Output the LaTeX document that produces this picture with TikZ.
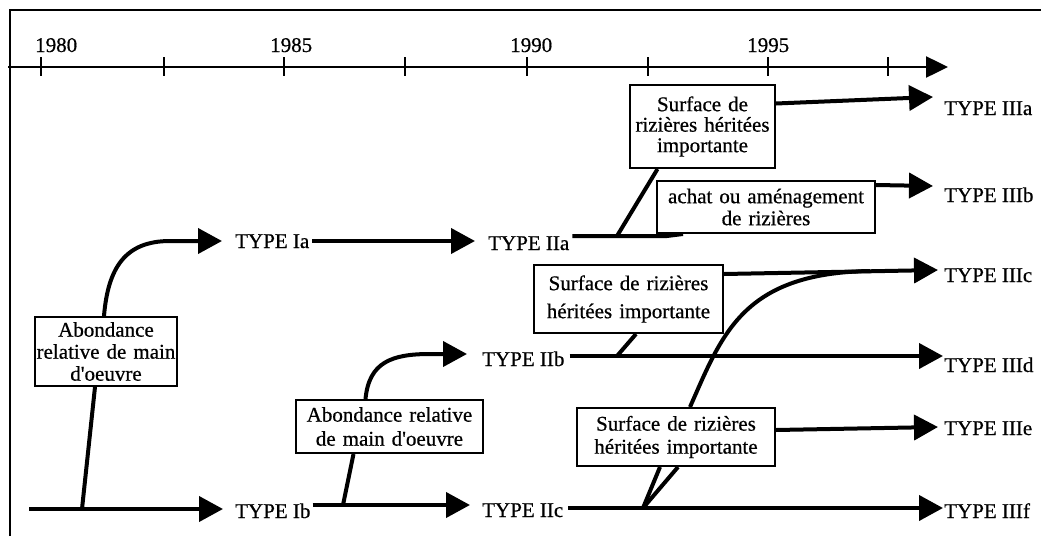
\documentclass[tikz,border=0pt]{standalone}
\usepackage{fontspec}
\setmainfont{Liberation Serif}[FakeBold=0.6]
\usetikzlibrary{arrows.meta,backgrounds}
\begin{document}
\begin{tikzpicture}[x=1pt,y=-1pt,
  every node/.style={font={\fontsize{21}{22}\selectfont}},
  frame/.style={line width=2pt},
  axis/.style={line width=2.5pt,-{Triangle[length=22pt,width=21pt]}},
  tick/.style={line width=2.5pt},
  year/.style={anchor=base west,inner sep=0pt},
  lbl/.style={anchor=west,inner sep=0pt,text height=14pt,text depth=0pt},
  boxnode/.style={draw,line width=2pt,fill=white,inner sep=0pt,align=center},
  conn/.style={line width=4pt},
  arr/.style={conn,-{Triangle[length=24pt,width=25pt]}}]
\useasboundingbox (0,0) rectangle (1041,536);
% frame
\draw[frame] (10,536) -- (10,10) -- (1041,10);
% time axis
\coordinate (ax0) at (8,67);
\coordinate (ax1) at (948,67);
\draw[axis] (ax0) -- (ax1);
\foreach \x in {41,164,284,405,527,648,768,888} \draw[tick] (\x,57) -- (\x,76);
\node[year] (y80) at (35,52) {1980};
\node[year] (y85) at (270,52) {1985};
\node[year] (y90) at (510,52) {1990};
\node[year] (y95) at (747,52) {1995};
% type labels
\node[lbl] (Ia) at (235,241) {TYPE Ia};
\node[lbl] (Ib) at (235,511) {TYPE Ib};
\node[lbl] (IIa) at (488,243) {TYPE IIa};
\node[lbl] (IIb) at (482,359) {TYPE IIb};
\node[lbl] (IIc) at (482,510) {TYPE IIc};
\node[lbl] (IIIa) at (944,108) {TYPE IIIa};
\node[lbl] (IIIb) at (944,195) {TYPE IIIb};
\node[lbl] (IIIc) at (944,275) {TYPE IIIc};
\node[lbl] (IIId) at (944,365) {TYPE IIId};
\node[lbl] (IIIe) at (944,428) {TYPE IIIe};
\node[lbl] (IIIf) at (944,511) {TYPE IIIf};
% boxes
\node[boxnode,minimum width=142pt,minimum height=69pt,text width=140pt,font={\fontsize{21}{22}\selectfont}] (box1) at (106,351.5) {Abondance\\relative de main\\d\textquotesingle oeuvre};
\node[boxnode,minimum width=145pt,minimum height=83pt,text width=143pt,font={\fontsize{21}{20.5}\selectfont}] (boxA) at (702.5,126.5) {Surface de\\rizières héritées\\importante};
\node[boxnode,minimum width=218pt,minimum height=52pt,text width=216pt,font={\fontsize{21}{22}\selectfont}] (box2) at (766,207) {achat ou aménagement\\de rizières};
\node[boxnode,minimum width=189pt,minimum height=68pt,text width=187pt,font={\fontsize{21}{28}\selectfont}] (boxB) at (628.5,299) {Surface de rizières\\héritées importante};
\node[boxnode,minimum width=198pt,minimum height=58pt,text width=196pt,font={\fontsize{21}{23}\selectfont}] (boxC) at (676,437) {Surface de rizières\\héritées importante};
\node[boxnode,minimum width=187pt,minimum height=53pt,text width=185pt,font={\fontsize{21}{24}\selectfont}] (box4) at (389.5,426.5) {Abondance relative\\de main d\textquotesingle oeuvre};
% junctions
\coordinate (s1) at (29,509);
\coordinate (j1) at (82,509);
\coordinate (j2) at (617,236);
\coordinate (j3) at (617,356);
\coordinate (j4) at (343,505);
\coordinate (j5) at (643,508);
\coordinate (m1) at (870,271);
\begin{scope}[on background layer]
% period I
\draw[arr,shorten >=12pt] (s1) -- (s1 -| Ib.west);
\draw[conn] (j1) -- ([xshift=-11pt]box1.south);
\draw[arr,shorten >=13pt] ([xshift=-2pt]box1.north) .. controls (108,268) and (125,241) .. (170,241) -- (Ia.west);
% period II
\draw[arr,shorten >=13pt] ([xshift=3pt]Ia.east) -- (Ia.east -| IIa.west);
\draw[arr,shorten >=14pt] ([xshift=2pt,yshift=6pt]Ib.east) -- ([xshift=2pt,yshift=6pt]Ib.east -| IIc.west);
\draw[conn] (j4) -- ([xshift=-36pt]box4.south);
\draw[arr,shorten >=15pt] ([xshift=-24pt]box4.north) .. controls (369,362) and (392,354) .. (430,354) -- ([yshift=5pt]IIb.west);
% period III
\draw[conn] ([xshift=3pt,yshift=7pt]IIa.east) -- (667,236) -- ([xshift=-83pt]box2.south);
\draw[conn] (j2) -- ([xshift=-45pt]boxA.south);
\draw[arr] ([yshift=23pt]boxA.east) -- ([xshift=-11pt,yshift=11pt]IIIa.west);
\draw[arr] ([yshift=22pt]box2.east) -- ([xshift=-11pt,yshift=9pt]IIIb.west);
\draw[arr] ([yshift=25pt]boxB.east) -- ([xshift=-6pt,yshift=5pt]IIIc.west);
\draw[arr,shorten >=6pt] ([xshift=5pt,yshift=3pt]IIb.east) -- ([xshift=5pt,yshift=3pt]IIb.east -| IIId.west);
\draw[conn] (j3) -- ([xshift=7.5pt]boxB.south);
\draw[arr,shorten >=6pt] ([xshift=5pt,yshift=2pt]IIc.east) -- ([xshift=5pt,yshift=2pt]IIc.east -| IIIf.west);
\draw[conn] (j5) -- ([xshift=-16pt]boxC.south);
\draw[conn] (j5) -- ([xshift=2pt]boxC.south);
\draw[arr] ([yshift=7pt]boxC.east) -- ([xshift=-6pt,yshift=1pt]IIIe.west);
\draw[conn] ([xshift=14pt]boxC.north) .. controls (722,335) and (742,273) .. (m1);
\end{scope}
\end{tikzpicture}
\end{document}
